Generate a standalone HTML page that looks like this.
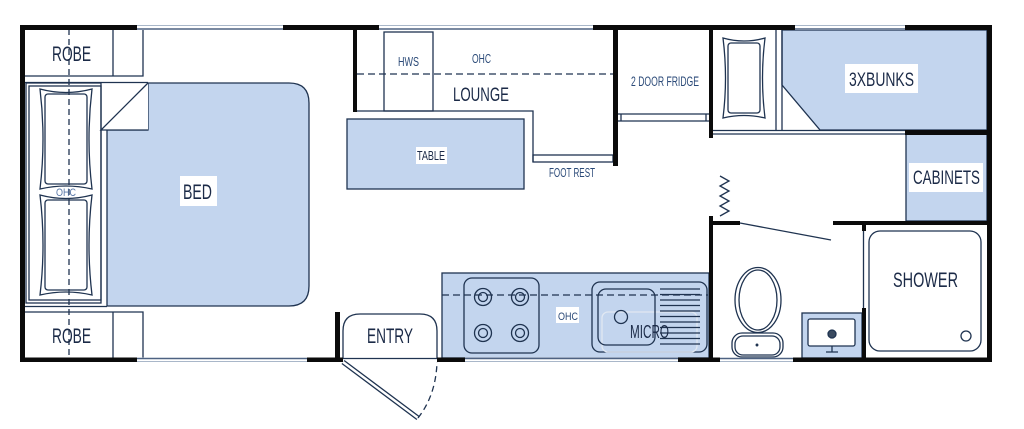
<!DOCTYPE html>
<html><head><meta charset="utf-8"><style>
html,body{margin:0;padding:0;background:#fff;}
svg{display:block;}
text{font-family:"Liberation Sans",sans-serif;fill:#1b2a47;}
.s{fill:#2b4a78;}
</style></head><body>
<svg width="1024" height="429" viewBox="0 0 1024 429" xmlns="http://www.w3.org/2000/svg">
<g fill="none" stroke="#1f3350" stroke-width="1.3">
<!-- blue regions -->
<path d="M148,83 L289,83 Q309,83 309,103 L309,286 Q309,306 289,306 L107,306 L107,130 L148,130 Z" fill="#c3d5ee"/>
<rect x="347" y="119" width="177" height="70" fill="#c3d5ee"/>
<path d="M782,30 L987,30 L987,130 L820,130 L782,85 Z" fill="#c3d5ee"/>
<rect x="906" y="134" width="81" height="87" fill="#c3d5ee"/>
<rect x="442" y="273" width="267" height="85" fill="#c3d5ee"/>
<rect x="802" y="313" width="60" height="45" fill="#c3d5ee"/>

<!-- robes -->
<path d="M25,76 L143,76 L143,29 M113,29 L113,76"/>
<path d="M25,312 L143,312 L143,358 M113,312 L113,358"/>
<line x1="25" y1="82.5" x2="148" y2="82.5"/>
<line x1="25" y1="306.5" x2="107" y2="306.5"/>
<!-- pillow box -->
<rect x="26" y="83" width="75" height="220"/>
<rect x="29" y="86" width="72" height="214"/>
<path d="M148,83 L101,130 L148,130" fill="#fff"/>
<!-- pillows -->
<path d="M40,89 Q66,96 92,89 Q86,139 92,189 Q66,183 40,189 Q46,139 40,89 Z" fill="#fff"/>
<rect x="45" y="94" width="42" height="90" rx="3"/>
<path d="M40,195 Q66,202 92,195 Q86,245 92,295 Q66,289 40,295 Q46,245 40,195 Z" fill="#fff"/>
<rect x="45" y="200" width="42" height="90" rx="3"/>
<line x1="69" y1="29" x2="69" y2="358" stroke-dasharray="6,4"/>

<!-- lounge -->
<rect x="384" y="32" width="49" height="79"/>
<line x1="357" y1="74" x2="613" y2="74" stroke-dasharray="7,4"/>
<path d="M357,111 L533,111 L533,162"/>
<rect x="533" y="155" width="80" height="7"/>
<!-- fridge -->
<line x1="618" y1="114" x2="709" y2="114"/>
<line x1="618" y1="121" x2="709" y2="121"/>
<line x1="621" y1="114" x2="621" y2="121"/>
<line x1="706" y1="114" x2="706" y2="121"/>

<!-- bunks -->
<line x1="776" y1="30" x2="776" y2="130"/>
<line x1="782" y1="30" x2="782" y2="130"/>
<line x1="713" y1="130.5" x2="905" y2="130.5"/>
<line x1="713" y1="134" x2="905" y2="134"/>
<path d="M723,38 Q744,44 765,38 Q760,78 765,118 Q744,113 723,118 Q728,78 723,38 Z" fill="#fff"/>
<rect x="728" y="43" width="32" height="70" rx="3"/>
<!-- zigzag -->
<polyline points="720,176 729,181 720,186 729,191 720,196 729,201 720,206 729,211 720,216"/>
<!-- bath door -->
<line x1="740" y1="223" x2="831" y2="240"/>

<!-- toilet -->
<ellipse cx="758" cy="300" rx="23" ry="32.5" fill="#fff"/>
<ellipse cx="758" cy="300" rx="19" ry="30"/>
<rect x="732" y="333" width="51" height="24" rx="10" fill="#fff"/>
<rect x="735" y="336" width="45" height="19" rx="8"/>
<circle cx="757" cy="345" r="0.8" fill="#1f3350"/>
<!-- vanity -->
<rect x="808" y="319" width="47" height="27" rx="2" fill="#fff"/>
<circle cx="832" cy="334" r="4" fill="#3a4a60"/>
<path d="M832,346 L832,352 M826,352 L838,352"/>
<!-- shower -->
<line x1="863.5" y1="225" x2="863.5" y2="358"/>
<rect x="869" y="231" width="112" height="120" rx="11" fill="#fff"/>
<circle cx="966" cy="336" r="5"/>

<!-- kitchen -->
<rect x="464" y="278" width="75" height="75" rx="8"/>
<g>
<circle cx="483" cy="297" r="8.5"/><circle cx="483" cy="297" r="4.5"/>
<circle cx="520" cy="297" r="8.5"/><circle cx="520" cy="297" r="4.5"/>
<circle cx="483" cy="333" r="8.5"/><circle cx="483" cy="333" r="4.5"/>
<circle cx="520" cy="333" r="8.5"/><circle cx="520" cy="333" r="4.5"/>
</g>
<line x1="442" y1="295" x2="708" y2="295" stroke-dasharray="7,4"/>
<rect x="592" y="282" width="115" height="70" rx="8"/>
<rect x="602" y="312" width="95" height="40" rx="6" stroke="#e1e8f2"/>
<rect x="598" y="289" width="57" height="56" rx="8"/>
<circle cx="621" cy="317" r="6.5"/>
<g stroke-width="1.2">
<line x1="660" y1="289" x2="700" y2="289"/><line x1="660" y1="294.5" x2="700" y2="294.5"/>
<line x1="660" y1="300" x2="700" y2="300"/><line x1="660" y1="305.5" x2="700" y2="305.5"/>
<line x1="660" y1="311" x2="700" y2="311"/><line x1="660" y1="316.5" x2="700" y2="316.5"/>
<line x1="660" y1="322" x2="700" y2="322"/><line x1="660" y1="327.5" x2="700" y2="327.5"/>
<line x1="660" y1="333" x2="700" y2="333"/><line x1="660" y1="338.5" x2="700" y2="338.5"/>
<line x1="660" y1="344" x2="700" y2="344"/>
</g>
<!-- entry -->
<path d="M343,358 L343,331 Q343,314 360,314 L420,314 Q437,314 437,331 L437,358"/>
<line x1="343" y1="358.5" x2="437" y2="358.5"/>
<line x1="343" y1="362" x2="418" y2="418" stroke-width="5"/>
<line x1="343" y1="362" x2="418" y2="418" stroke="#fff" stroke-width="2.4"/>
<path d="M418,418 Q436,395 437,362" stroke-dasharray="6,4"/>
</g>

<!-- white label boxes -->
<g fill="#fff">
<rect x="180" y="176" width="37" height="30"/>
<rect x="416" y="147" width="31" height="17"/>
<rect x="845" y="64" width="73" height="29"/>
<rect x="909" y="163" width="74" height="29"/>
<rect x="556" y="307" width="23" height="16"/>
</g>

<!-- windows -->
<g>
<rect x="137" y="25" width="146" height="5" fill="#fff"/>
<rect x="379" y="25" width="214" height="5" fill="#fff"/>
<rect x="795" y="25" width="110" height="5" fill="#fff"/>
<rect x="137" y="357.5" width="170" height="4.5" fill="#fff"/>
<rect x="465" y="357.5" width="213" height="4.5" fill="#fff"/>
<rect x="720" y="357.5" width="73" height="4.5" fill="#fff"/>
<g stroke="#a9b7c9" stroke-width="1">
<line x1="137" y1="25.5" x2="283" y2="25.5"/><line x1="379" y1="25.5" x2="593" y2="25.5"/><line x1="795" y1="25.5" x2="905" y2="25.5"/>
<line x1="137" y1="361.5" x2="307" y2="361.5"/><line x1="465" y1="361.5" x2="678" y2="361.5"/><line x1="720" y1="361.5" x2="793" y2="361.5"/>
</g>
<g stroke="#4e6282" stroke-width="1.5">
<line x1="137" y1="29" x2="283" y2="29"/><line x1="379" y1="29" x2="593" y2="29"/><line x1="795" y1="29" x2="905" y2="29"/>
<line x1="137" y1="358.5" x2="307" y2="358.5"/><line x1="465" y1="358.5" x2="678" y2="358.5"/><line x1="720" y1="358.5" x2="793" y2="358.5"/>
</g>
</g>

<!-- walls -->
<g fill="#0b0b0b">
<rect x="20" y="25" width="117" height="5"/>
<rect x="283" y="25" width="96" height="5"/>
<rect x="593" y="25" width="202" height="5"/>
<rect x="905" y="25" width="87" height="5"/>
<rect x="20" y="25" width="5" height="337"/>
<rect x="987" y="25" width="5" height="337"/>
<rect x="20" y="357.5" width="117" height="4.5"/>
<rect x="307" y="357.5" width="36" height="4.5"/>
<rect x="437" y="357.5" width="28" height="4.5"/>
<rect x="678" y="357.5" width="42" height="4.5"/>
<rect x="793" y="357.5" width="194" height="4.5"/>
<rect x="335" y="312" width="5" height="50"/>
<rect x="353" y="29" width="4" height="83"/>
<rect x="613" y="29" width="5" height="137"/>
<rect x="709" y="29" width="4" height="109"/>
<rect x="709" y="216" width="4" height="146"/>
<rect x="709" y="221" width="31" height="4"/>
<rect x="833" y="221" width="154" height="4"/>
<rect x="905" y="130" width="82" height="5"/>
<rect x="862" y="225" width="4" height="6"/>
<rect x="862" y="308" width="4" height="50"/>
</g>

<!-- labels -->
<text x="52" y="61" font-size="21" textLength="39" lengthAdjust="spacingAndGlyphs">ROBE</text>
<text x="52" y="343" font-size="21" textLength="39" lengthAdjust="spacingAndGlyphs">ROBE</text>
<text x="183" y="199" font-size="21" textLength="29" lengthAdjust="spacingAndGlyphs">BED</text>
<text class="s" x="56" y="196" font-size="11" textLength="20" lengthAdjust="spacingAndGlyphs" style="fill:#5a78a8">OHC</text>
<text class="s" x="398" y="66" font-size="12.5" textLength="21" lengthAdjust="spacingAndGlyphs">HWS</text>
<text class="s" x="472" y="63" font-size="12.5" textLength="19" lengthAdjust="spacingAndGlyphs">OHC</text>
<text x="453" y="101" font-size="19.5" textLength="56" lengthAdjust="spacingAndGlyphs">LOUNGE</text>
<text class="s" x="631" y="86" font-size="13.5" textLength="68" lengthAdjust="spacingAndGlyphs">2 DOOR FRIDGE</text>
<text x="417" y="160" font-size="12.5" textLength="28" lengthAdjust="spacingAndGlyphs">TABLE</text>
<text class="s" x="549" y="177" font-size="12.5" textLength="46" lengthAdjust="spacingAndGlyphs">FOOT REST</text>
<text x="849" y="86" font-size="19.5" textLength="65" lengthAdjust="spacingAndGlyphs">3XBUNKS</text>
<text x="913" y="184" font-size="19.5" textLength="67" lengthAdjust="spacingAndGlyphs">CABINETS</text>
<text x="893" y="287" font-size="21" textLength="65" lengthAdjust="spacingAndGlyphs">SHOWER</text>
<text x="367" y="343" font-size="21" textLength="46" lengthAdjust="spacingAndGlyphs">ENTRY</text>
<text class="s" x="558" y="320" font-size="11" textLength="20" lengthAdjust="spacingAndGlyphs">OHC</text>
<text x="630" y="338" font-size="18" textLength="39" lengthAdjust="spacingAndGlyphs">MICRO</text>
</svg>
</body></html>
